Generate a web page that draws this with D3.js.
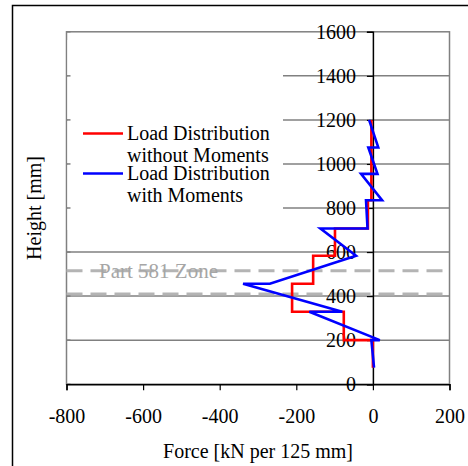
<!DOCTYPE html>
<html>
<head>
<meta charset="utf-8">
<script src="https://cdn.jsdelivr.net/npm/d3@7"></script>
<style>
  html, body { margin: 0; padding: 0; background: #fff; }
  svg { display: block; }
  text { font-family: "Liberation Serif", "Times New Roman", serif; }
</style>
</head>
<body>
<script>
// ---- data ----
const xTicks = [-800, -600, -400, -200, 0, 200];
const yTicks = [0, 200, 400, 600, 800, 1000, 1200, 1400, 1600];
// segment boundaries (height, mm)
const segHeights = [75, 200, 329, 456, 583, 707, 835, 955, 1075, 1200];
// load per segment without moments (kN per 125 mm)
const forceWithout = [0, -76, -211, -156, -99, -13, -4, -4, -4];
// load distribution with moments (polyline vertices)
const blueHeight = [75, 200, 200, 329, 329, 456, 456, 583, 707, 707, 835, 835, 955, 955, 1075, 1075, 1200];
const blueForce  = [3, -4, 18, -166, -80, -339, -269, -44, -137, -14, -18, 24, -31, 12, -12, 14, -10];
// Part 581 zone boundaries
const zoneBounds = [515, 410];
const legendItems = [
  { color: "#ff0000", lines: ["Load Distribution", "without Moments"] },
  { color: "#0000ff", lines: ["Load Distribution", "with Moments"] }
];

const W = 468, H = 466;
const svg = d3.select("body").append("svg").attr("width", W).attr("height", H);

const x = d3.scaleLinear().domain([-800, 200]).range([66.5, 449.5]);
const y = d3.scaleLinear().domain([0, 1600]).range([384.2, 31.8]);

const gray = "#808080";
const fs = 20;

// outer frame
svg.append("path").attr("d", "M12.5,470V5.5H472").attr("fill", "none").attr("stroke", "#000").attr("stroke-width", 1.5);

// plot area border
svg.append("rect").attr("x", x(-800)).attr("y", y(1600)).attr("width", x(200) - x(-800)).attr("height", y(0) - y(1600))
  .attr("fill", "#fff").attr("stroke", gray).attr("stroke-width", 1.5);

// gridlines
svg.append("g").selectAll("line").data(yTicks.filter(d => d > 0 && d < 1600)).join("line")
  .attr("x1", x(-800)).attr("x2", x(200)).attr("y1", d => y(d)).attr("y2", d => y(d))
  .attr("stroke", gray).attr("stroke-width", 1.5);

// Part 581 zone dashed lines
svg.append("g").selectAll("line").data(zoneBounds).join("line")
  .attr("x1", x(-800)).attr("x2", x(200)).attr("y1", d => y(d)).attr("y2", d => y(d))
  .attr("stroke", "#b4b4b4").attr("stroke-width", 3).attr("stroke-dasharray", "16,8");
svg.append("text").attr("x", 99).attr("y", y(zoneBounds[0]) + 7).attr("font-size", 21)
  .attr("fill", "#a6a6a6").text("Part 581 Zone");

// legend box (white, covers gridlines)
svg.append("rect").attr("x", x(-800) + 1).attr("y", 40).attr("width", 283 - x(-800) - 1).attr("height", 190).attr("fill", "#fff");

// left axis inner ticks
svg.append("g").selectAll("line").data(yTicks).join("line")
  .attr("x1", x(-800)).attr("x2", x(-800) + 4).attr("y1", d => y(d)).attr("y2", d => y(d))
  .attr("stroke", gray).attr("stroke-width", 1.5);

// x axis (bottom)
const xAxis = d3.axisBottom(x).tickValues(xTicks).tickSize(6).tickPadding(19).tickFormat(d => String(d));
const gx = svg.append("g").attr("transform", `translate(0,${y(0)})`).call(xAxis);
gx.select(".domain").attr("stroke", "#000").attr("stroke-width", 1.5);
gx.selectAll(".tick line").attr("stroke", "#000").attr("stroke-width", 1.2);
gx.selectAll("text").attr("font-size", fs).attr("font-family", "Liberation Serif, serif").attr("fill", "#000");

// y axis at x = 0
const yAxis = d3.axisLeft(y).tickValues(yTicks).tickSize(6).tickPadding(11).tickFormat(d => String(d));
const gy = svg.append("g").attr("transform", `translate(${x(0)},0)`).call(yAxis);
gy.select(".domain").attr("stroke", "#000").attr("stroke-width", 1.5);
gy.selectAll(".tick line").attr("stroke", "#000").attr("stroke-width", 1.2);
gy.selectAll("text").attr("font-size", fs).attr("font-family", "Liberation Serif, serif").attr("fill", "#000");

// red step series
const redPts = [];
forceWithout.forEach((f, i) => { redPts.push([f, segHeights[i]]); redPts.push([f, segHeights[i + 1]]); });
const line = d3.line().x(d => x(d[0])).y(d => y(d[1]));
svg.append("path").attr("d", line(redPts)).attr("fill", "none").attr("stroke", "#ff0000").attr("stroke-width", 2.6);

// blue series
const bluePts = blueForce.map((f, i) => [f, blueHeight[i]]);
svg.append("path").attr("d", line(bluePts)).attr("fill", "none").attr("stroke", "#0000ff").attr("stroke-width", 2.6)
  .attr("stroke-linejoin", "miter");

// legend
legendItems.forEach((it, i) => {
  const ly = 133.5 + i * 40;
  svg.append("line").attr("x1", 83).attr("x2", 123).attr("y1", ly).attr("y2", ly)
    .attr("stroke", it.color).attr("stroke-width", 2.6);
  it.lines.forEach((t, j) => {
    svg.append("text").attr("x", 127).attr("y", ly + 6.5 + j * 22).attr("font-size", fs).attr("fill", "#000").text(t);
  });
});

// axis titles
svg.append("text").attr("x", (x(-800) + x(200)) / 2).attr("y", 458).attr("text-anchor", "middle")
  .attr("font-size", fs).text("Force [kN per 125 mm]");
svg.append("text").attr("transform", `translate(41,${(y(0) + y(1600)) / 2}) rotate(-90)`).attr("text-anchor", "middle")
  .attr("font-size", fs).text("Height [mm]");
</script>
</body>
</html>
